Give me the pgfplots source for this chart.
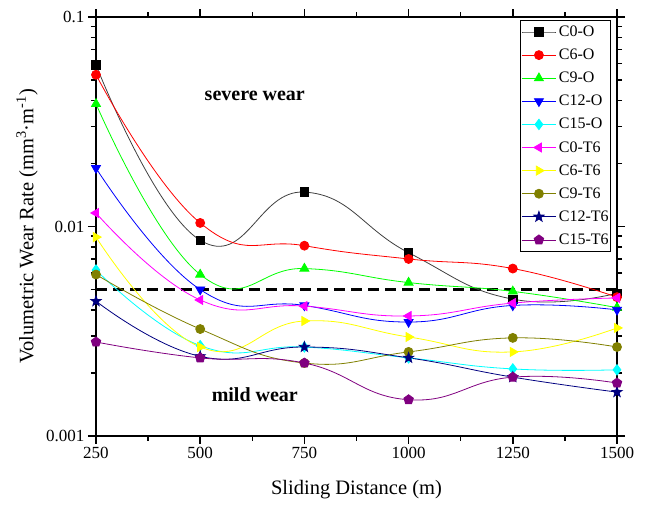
\documentclass[border=0pt]{standalone}
\usepackage{fontspec}
\setmainfont{Liberation Serif}
\usepackage{pgfplots}
\pgfplotsset{compat=1.18}
\usetikzlibrary{plotmarks}
\definecolor{cgreen}{RGB}{0,255,0}
\definecolor{cyel}{RGB}{255,255,0}
\definecolor{colive}{RGB}{128,128,0}
\definecolor{cnavy}{RGB}{0,0,128}
\definecolor{cpurp}{RGB}{128,0,128}
\definecolor{ccyan}{RGB}{0,255,255}
\definecolor{cmag}{RGB}{255,0,255}
\pgfdeclareplotmark{fstar}{%
  \pgfpathmoveto{\pgfpointpolar{90}{1.2\pgfplotmarksize}}%
  \pgfpathlineto{\pgfpointpolar{126}{0.48\pgfplotmarksize}}%
  \pgfpathlineto{\pgfpointpolar{162}{1.2\pgfplotmarksize}}%
  \pgfpathlineto{\pgfpointpolar{198}{0.48\pgfplotmarksize}}%
  \pgfpathlineto{\pgfpointpolar{234}{1.2\pgfplotmarksize}}%
  \pgfpathlineto{\pgfpointpolar{270}{0.48\pgfplotmarksize}}%
  \pgfpathlineto{\pgfpointpolar{306}{1.2\pgfplotmarksize}}%
  \pgfpathlineto{\pgfpointpolar{342}{0.48\pgfplotmarksize}}%
  \pgfpathlineto{\pgfpointpolar{18}{1.2\pgfplotmarksize}}%
  \pgfpathlineto{\pgfpointpolar{54}{0.48\pgfplotmarksize}}%
  \pgfpathclose
  \pgfusepathqfillstroke}
\pgfplotsset{pl/.style={smooth, tension=0.8, /tikz/line width=0.8pt, mark size=4.5pt, mark options={solid}}}
\begin{document}
\begin{tikzpicture}
\begin{axis}[name=ax, scale only axis, width=521pt, height=419pt,
  xmin=250, xmax=1500, ymode=log, ymin=0.001, ymax=0.1,
  xtick={250,500,750,1000,1250,1500}, minor x tick num=1,
  ytick={0.001,0.01,0.1}, yticklabels={0.001,0.01,0.1},
  tick align=outside, major tick length=8pt, minor tick length=5pt,
  axis line style={line width=1.8pt},
  every tick/.style={black, line width=1.4pt},
  tick label style={font=\fontsize{17}{20}\selectfont},
  /pgf/number format/assume math mode=true, /pgf/number format/1000 sep={},
  xlabel={Sliding Distance (m)},
  ylabel={Volumetric Wear Rate (mm\textsuperscript{3}·m\textsuperscript{-1})},
  label style={font=\fontsize{20.5}{24}\selectfont},
  xlabel style={at={(axis description cs:0.5,-0.129)}, anchor=center},
  ylabel style={at={(axis description cs:-0.1324,0.5)}, anchor=center},
  clip=false,
  legend style={at={(0.9885,0.9928)}, anchor=north east, draw=black, /tikz/line width=0.8pt,
    font=\fontsize{16}{18}\selectfont, row sep=10pt, column sep=2pt, inner xsep=1.5pt, inner ysep=5pt,
    nodes={inner sep=0.5pt}, cells={anchor=west}},
  legend image code/.code={\draw[mark repeat=2,mark phase=2,/tikz/line width=0.8pt] plot coordinates {(0pt,0pt)(17pt,0pt)(34pt,0pt)};},
]
\addplot[black, /tikz/line width=2.2pt, /tikz/dash pattern=on 11pt off 6pt, mark=none, forget plot] coordinates {(250,0.005)(1500,0.005)};
\addplot[pl, black!75, mark=square*, mark options={fill=black, draw=black}, mark size=4.2pt] coordinates {(250,0.059)(500,0.0086)(750,0.0146)(1000,0.0075)(1250,0.0045)(1500,0.0048)};
\addlegendentry{C0-O}
\addplot[pl, red, mark=*] coordinates {(250,0.053)(500,0.0104)(750,0.0081)(1000,0.0070)(1250,0.0063)(1500,0.0046)};
\addlegendentry{C6-O}
\addplot[pl, cgreen, mark=triangle*, mark size=5.2pt] coordinates {(250,0.0385)(500,0.0059)(750,0.0063)(1000,0.0054)(1250,0.0049)(1500,0.0041)};
\addlegendentry{C9-O}
\addplot[pl, blue, mark=triangle*, mark options={rotate=180}, mark size=5.2pt] coordinates {(250,0.019)(500,0.0050)(750,0.0042)(1000,0.0035)(1250,0.0042)(1500,0.0040)};
\addlegendentry{C12-O}
\addplot[pl, ccyan, mark=diamond*, mark size=5.2pt] coordinates {(250,0.0062)(500,0.0027)(750,0.00266)(1000,0.00236)(1250,0.00209)(1500,0.00207)};
\addlegendentry{C15-O}
\addplot[pl, cmag, mark=triangle*, mark options={rotate=90}, mark size=5.2pt] coordinates {(250,0.0116)(500,0.00446)(750,0.00417)(1000,0.00374)(1250,0.00431)(1500,0.00456)};
\addlegendentry{C0-T6}
\addplot[pl, cyel, mark=triangle*, mark options={rotate=-90}, mark size=5.2pt] coordinates {(250,0.0089)(500,0.00266)(750,0.00354)(1000,0.00297)(1250,0.00252)(1500,0.00328)};
\addlegendentry{C6-T6}
\addplot[pl, colive, mark=*] coordinates {(250,0.0059)(500,0.00324)(750,0.00223)(1000,0.00252)(1250,0.00294)(1500,0.00266)};
\addlegendentry{C9-T6}
\addplot[pl, cnavy, mark=fstar] coordinates {(250,0.0044)(500,0.0024)(750,0.00266)(1000,0.00236)(1250,0.00191)(1500,0.00162)};
\addlegendentry{C12-T6}
\addplot[pl, cpurp, mark=pentagon*, mark size=5pt] coordinates {(250,0.00281)(500,0.00236)(750,0.00223)(1000,0.00149)(1250,0.00191)(1500,0.00179)};
\addlegendentry{C15-T6}
\node[font=\fontsize{20}{24}\selectfont\bfseries] at (axis cs:631,0.042) {severe wear};
\node[font=\fontsize{20}{24}\selectfont\bfseries] at (axis cs:631,0.00157) {mild wear};
\end{axis}
\path ([shift={(-96pt,-69pt)}]ax.south west) rectangle ([shift={(29pt,17pt)}]ax.north east);
\end{tikzpicture}
\end{document}
